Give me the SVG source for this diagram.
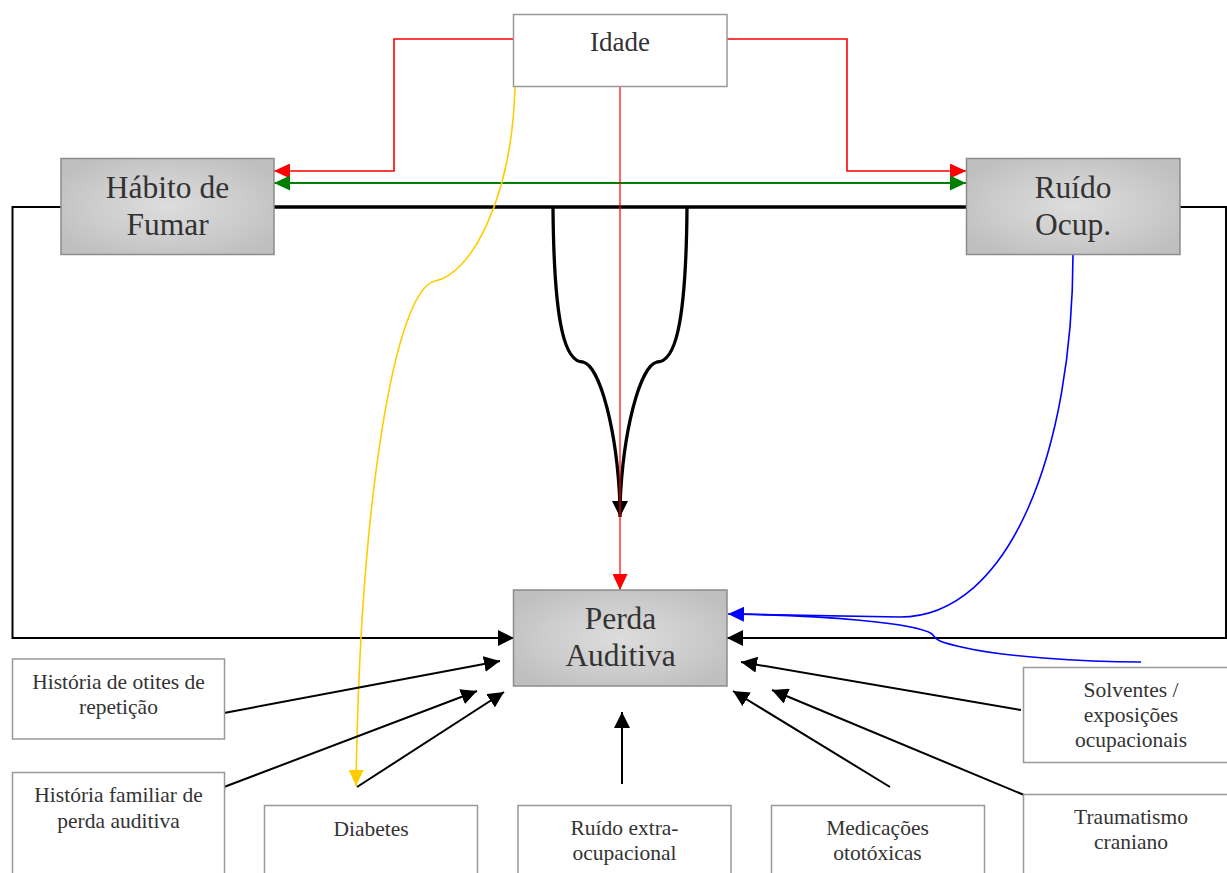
<svg xmlns="http://www.w3.org/2000/svg" width="1227" height="873" viewBox="0 0 1227 873">
<defs>
<radialGradient id="gfill" cx="50%" cy="50%" r="60%">
<stop offset="0" stop-color="#dddddd"/>
<stop offset="0.6" stop-color="#cccccc"/>
<stop offset="1" stop-color="#bfbfbf"/>
</radialGradient>
<marker id="ah-red" markerUnits="userSpaceOnUse" markerWidth="17" markerHeight="15" refX="16" refY="7.5" orient="auto-start-reverse"><path d="M0,0 L16,7.5 L0,15 z" fill="#ff0000"/></marker>
<marker id="ah-green" markerUnits="userSpaceOnUse" markerWidth="17" markerHeight="15" refX="16" refY="7.5" orient="auto-start-reverse"><path d="M0,0 L16,7.5 L0,15 z" fill="#008000"/></marker>
<marker id="ah-blue" markerUnits="userSpaceOnUse" markerWidth="17" markerHeight="15" refX="16" refY="7.5" orient="auto"><path d="M0,0 L16,7.5 L0,15 z" fill="#0000ff"/></marker>
<marker id="ah-yellow" markerUnits="userSpaceOnUse" markerWidth="17" markerHeight="15" refX="16" refY="7.5" orient="auto"><path d="M0,0 L16,7.5 L0,15 z" fill="#ffcc00"/></marker>
<marker id="ah-black" markerUnits="userSpaceOnUse" markerWidth="17" markerHeight="16" refX="16" refY="8" orient="auto"><path d="M0,0 L16,8 L0,16 z" fill="#000000"/></marker>
</defs>
<style>
.gbox{fill:url(#gfill);stroke:#8c8c8c;stroke-width:1.5}
.wbox{fill:#ffffff;stroke:#999999;stroke-width:1.5}
text{font-family:'Liberation Serif','Times New Roman',serif;fill:#333333;text-anchor:middle}
.big{font-size:31.5px}
.mid{font-size:27px}
.sm{font-size:21.5px}
.red{fill:none;stroke:#ff0000;stroke-width:1.6}
.blk{fill:none;stroke:#000000;stroke-width:2}
</style>
<rect width="1227" height="873" fill="#ffffff"/>

<g id="frame">
<path d="M61,207 L12.5,207 L12.5,638 L514,638" class="blk" stroke-width="2.5" marker-end="url(#ah-black)"/>
<path d="M1180,207 L1226,207 L1226,638 L727,638" class="blk" stroke-width="2.5" marker-end="url(#ah-black)"/>
<path d="M274,207 L966,207" fill="none" stroke="#000" stroke-width="3.5"/>
</g>

<g id="connectors">
<path d="M513,39 L394,39 L394,171 L274,171" class="red" marker-end="url(#ah-red)"/>
<path d="M727,39 L847,39 L847,171 L966,171" class="red" marker-end="url(#ah-red)"/>
<path d="M274,183 L966,183" fill="none" stroke="#008000" stroke-width="1.8" marker-start="url(#ah-green)" marker-end="url(#ah-green)"/>
<path d="M553,208 C554,330 566,362 583,362 C600,366 617,430 620,505" fill="none" stroke="#000" stroke-width="3.3"/>
<path d="M687,208 C686,330 674,362 657,362 C640,366 623,430 620,505" fill="none" stroke="#000" stroke-width="3.3"/>
<path d="M620,498 L620,517" fill="none" stroke="#000" stroke-width="3.3" marker-end="url(#ah-black)"/>
<path d="M620,87 L620,590" fill="none" stroke="#ff0000" stroke-width="1.2" marker-end="url(#ah-red)"/>
<path d="M515,87 C512,200 470,275 435,281 C395,290 360,500 356,786" fill="none" stroke="#ffcc00" stroke-width="1.6" marker-end="url(#ah-yellow)"/>
<path d="M1073,254 C1073,450 1010,617 900,617 L728,614" fill="none" stroke="#0000ff" stroke-width="1.6" marker-end="url(#ah-blue)"/>
<path d="M1141,662 C1080,662 1000,656 966,648 C938,642 936,640 932,634 C915,622 820,616 740,614" fill="none" stroke="#0000ff" stroke-width="1.6"/>
<path d="M224,713 L500,661" class="blk" marker-end="url(#ah-black)"/>
<path d="M224,787 L477,691" class="blk" marker-end="url(#ah-black)"/>
<path d="M357,787 L504,692" class="blk" marker-end="url(#ah-black)"/>
<path d="M622,784 L622,712" class="blk" marker-end="url(#ah-black)"/>
<path d="M890,787 L733,691" class="blk" marker-end="url(#ah-black)"/>
<path d="M1024,795 L772,690" class="blk" marker-end="url(#ah-black)"/>
<path d="M1021,710 L741,662" class="blk" marker-end="url(#ah-black)"/>
</g>

<g id="idade">
<rect x="513.5" y="14.5" width="213.5" height="72" class="wbox"/>
<text x="620" y="50.5" class="mid">Idade</text>
</g>
<g id="habito">
<rect x="61" y="158.5" width="213" height="96" class="gbox"/>
<text x="167.5" y="197.5" class="big">Hábito de</text>
<text x="167.5" y="234.5" class="big">Fumar</text>
</g>
<g id="ruido-ocup">
<rect x="966.5" y="158.5" width="213.5" height="96" class="gbox"/>
<text x="1073" y="197.5" class="big">Ruído</text>
<text x="1073" y="235" class="big">Ocup.</text>
</g>
<g id="perda">
<rect x="513.5" y="590" width="213.5" height="96" class="gbox"/>
<text x="620.5" y="628.5" class="big">Perda</text>
<text x="620.5" y="666" class="big">Auditiva</text>
</g>
<g id="otites">
<rect x="12.5" y="659" width="212" height="80" class="wbox"/>
<text x="118.5" y="688.5" class="sm">História de otites de</text>
<text x="118.5" y="713.5" class="sm">repetição</text>
</g>
<g id="familiar">
<rect x="12.5" y="772.5" width="212" height="120" class="wbox"/>
<text x="118.5" y="802" class="sm">História familiar de</text>
<text x="118.5" y="827.5" class="sm">perda auditiva</text>
</g>
<g id="diabetes">
<rect x="264.5" y="805.5" width="213" height="90" class="wbox"/>
<text x="371" y="836" class="sm">Diabetes</text>
</g>
<g id="ruido-extra">
<rect x="518" y="805.5" width="213" height="90" class="wbox"/>
<text x="624.5" y="835" class="sm">Ruído extra-</text>
<text x="624.5" y="860" class="sm">ocupacional</text>
</g>
<g id="medicacoes">
<rect x="771.5" y="805.5" width="213" height="90" class="wbox"/>
<text x="877.5" y="835" class="sm">Medicações</text>
<text x="877.5" y="859.5" class="sm">ototóxicas</text>
</g>
<g id="solventes">
<rect x="1023.5" y="667.5" width="214" height="95" class="wbox"/>
<text x="1131" y="697" class="sm">Solventes /</text>
<text x="1131" y="721.5" class="sm">exposições</text>
<text x="1131" y="746.5" class="sm">ocupacionais</text>
</g>
<g id="traumatismo">
<rect x="1023.5" y="794.5" width="214" height="100" class="wbox"/>
<text x="1131" y="823.5" class="sm">Traumatismo</text>
<text x="1131" y="848.5" class="sm">craniano</text>
</g>
</svg>
